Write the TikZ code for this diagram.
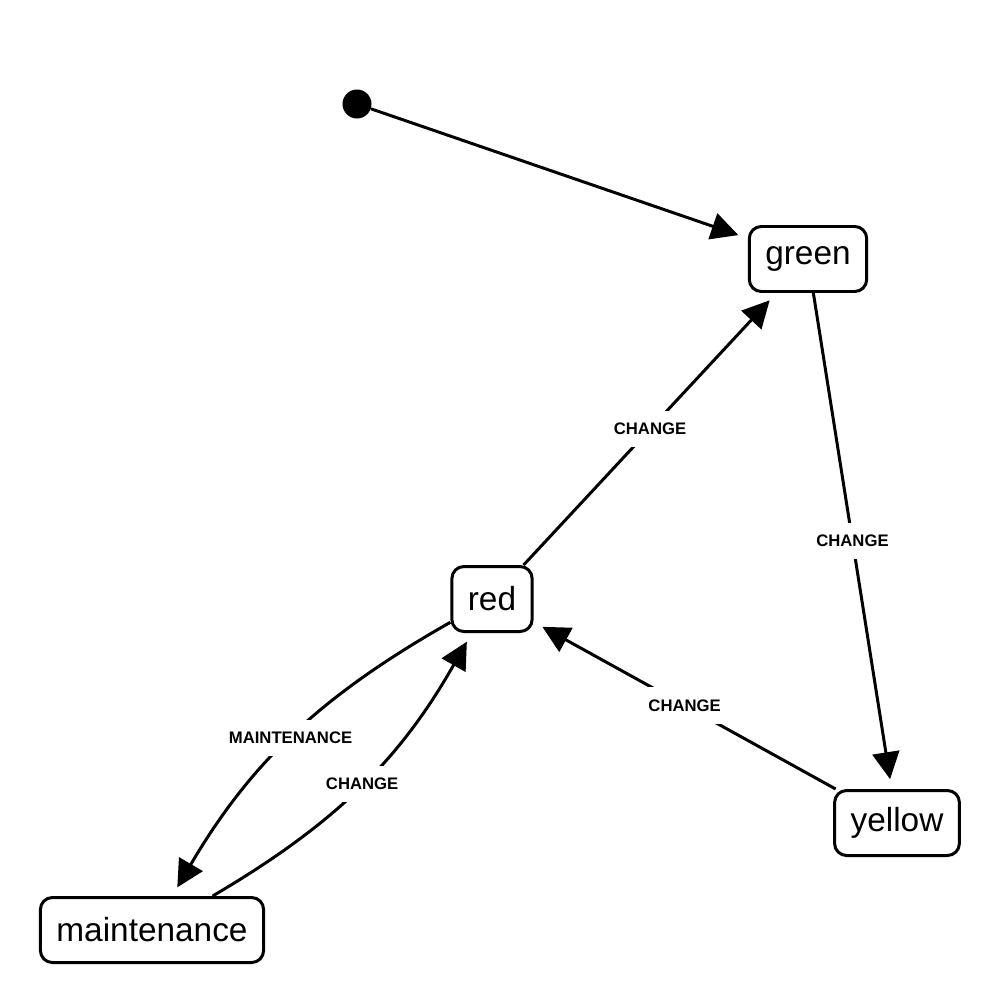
\documentclass[tikz,border=0pt]{standalone}
\usepackage{fontspec}
\setmainfont{Liberation Sans}
\usetikzlibrary{arrows.meta,positioning}
\tikzset{>={Triangle[length=0.54cm,width=0.54cm]}}

\begin{document}
\begin{tikzpicture}[
  state/.style={draw, rounded corners=0.24cm, line width=1.7pt,
    minimum height=1.3cm, inner xsep=0.32cm,
    font=\fontsize{19}{23}\selectfont},
  trans/.style={->, line width=1.7pt, shorten >=0.2cm},
  lbl/.style={fill=white, inner xsep=2pt, inner ysep=7pt,
    font=\fontsize{9.5}{11}\selectfont\bfseries}
]
  \useasboundingbox (0,0) rectangle (20,-20);

  % Nodes
  \node[circle, fill, inner sep=0pt, minimum size=0.58cm] (init) at (7.14,-2.08) {};
  \node[state] (green)       at (16.16,-5.18)  {green};
  \node[state] (red)         at (9.84,-11.98)  {red};
  \node[state] (yellow)      at (17.94,-16.46) {yellow};
  \node[state] (maintenance) at (3.04,-18.6)   {maintenance};

  % Edges
  \draw[trans] (init) -- (green);
  \draw[trans] (red) -- node[lbl] {CHANGE} (green);
  \draw[trans] (green) -- node[lbl] {CHANGE} (yellow);
  \draw[trans] (yellow) -- node[lbl] {CHANGE} (red);
  \draw[trans] (red) to[bend right=15] node[lbl] {MAINTENANCE} (maintenance);
  \draw[trans] (maintenance) to[bend right=15] node[lbl] {CHANGE} (red);
\end{tikzpicture}
\end{document}
